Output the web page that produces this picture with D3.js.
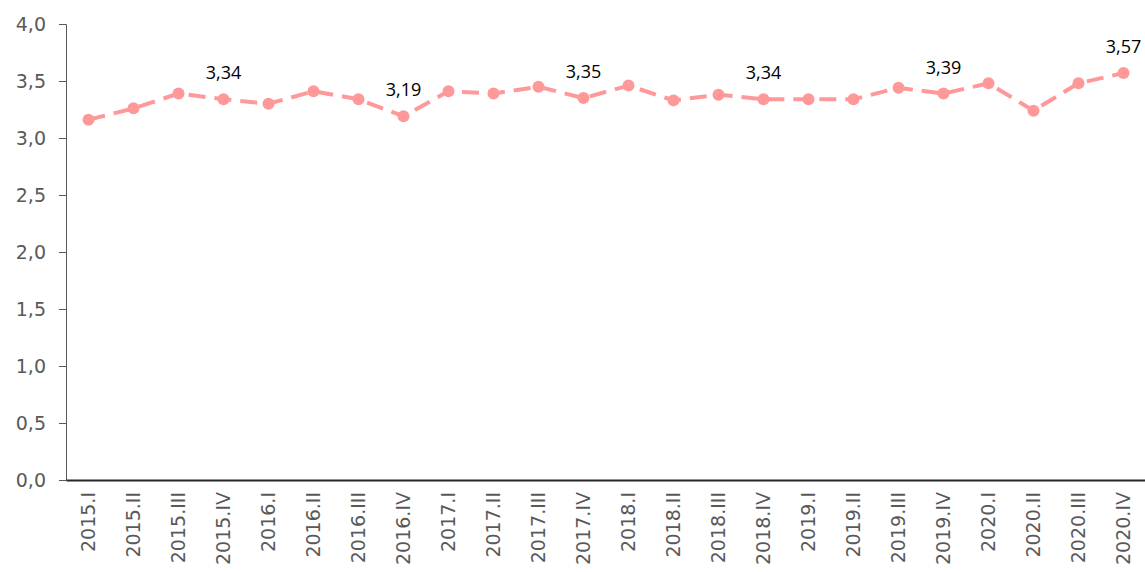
<!DOCTYPE html>
<html>
<head>
<meta charset="utf-8">
<script src="https://cdn.jsdelivr.net/npm/d3@7"></script>
<style>
  body { margin: 0; background: #fff; }
  svg { display: block; }
</style>
</head>
<body>
<svg></svg>
<script>
// quarterly series
const quarters = ['2015.I','2015.II','2015.III','2015.IV','2016.I','2016.II','2016.III','2016.IV',
  '2017.I','2017.II','2017.III','2017.IV','2018.I','2018.II','2018.III','2018.IV',
  '2019.I','2019.II','2019.III','2019.IV','2020.I','2020.II','2020.III','2020.IV']
const values = [3.16,3.26,3.39,3.34,3.30,3.41,3.34,3.19,
  3.41,3.39,3.45,3.35,3.46,3.33,3.38,3.34,
  3.34,3.34,3.44,3.39,3.48,3.24,3.48,3.57]
const yticks = [0,0.5,1,1.5,2,2.5,3,3.5,4]

const width = 1145
const height = 572
const margin = { left: 66, top: 24, right: -1, bottom: 92 }

let svg = d3.select('svg')
            .attr('width', width)
            .attr('height', height)

const fmt = v => d3.format('.1f')(v).replace('.', ',')
const fmt2 = v => d3.format('.2f')(v).replace('.', ',')

const xscale = d3.scaleBand()
                 .domain(quarters)
                 .range([margin.left, width - margin.right])
const yscale = d3.scaleLinear()
                 .domain([0, 4])
                 .range([height - margin.bottom, margin.top])

// y axis
const yaxis = svg.append('g')
   .attr('transform', `translate(${margin.left},0)`)
   .call(d3.axisLeft(yscale).tickValues(yticks).tickFormat(fmt).tickSize(7).tickPadding(13))
yaxis.select('.domain').attr('stroke', '#595959')
yaxis.selectAll('.tick line').attr('stroke', '#595959')
yaxis.selectAll('text')
     .attr('fill', '#595959')
     .style('font-family', 'DejaVu Sans')
     .style('font-size', '19px')

// x axis
const xaxis = svg.append('g')
   .attr('transform', `translate(0,${yscale(0)})`)
   .call(d3.axisBottom(xscale).tickSize(0))
xaxis.select('.domain').attr('stroke', '#262626').attr('stroke-width', 2)
xaxis.selectAll('text')
     .attr('fill', '#595959')
     .style('font-family', 'DejaVu Sans')
     .style('font-size', '19px')
     .attr('text-anchor', 'end')
     .attr('transform', 'rotate(-90)')
     .attr('x', -12)
     .attr('y', 0)
     .attr('dy', '0.35em')

const cx = d => xscale(d) + xscale.bandwidth() / 2

const line = d3.line()
   .x((d, i) => cx(quarters[i]))
   .y(d => yscale(d))

svg.append('path')
   .datum(values)
   .attr('d', line)
   .attr('fill', 'none')
   .attr('stroke', '#ff9999')
   .attr('stroke-width', 4)
   .attr('stroke-dasharray', '17,9')

svg.selectAll('circle.pt')
   .data(values)
   .join('circle')
   .attr('class', 'pt')
   .attr('cx', (d, i) => cx(quarters[i]))
   .attr('cy', d => yscale(d))
   .attr('r', 6)
   .attr('fill', '#ff9999')

// labels for every fourth quarter
svg.selectAll('text.lbl')
   .data(values.map((v, i) => ({ v, q: quarters[i], i })).filter(d => d.i % 4 === 3))
   .join('text')
   .attr('class', 'lbl')
   .attr('x', d => cx(d.q))
   .attr('y', d => yscale(d.v) - 20)
   .attr('text-anchor', 'middle')
   .style('font-family', 'Open Sans')
   .style('font-size', '18px')
   .attr('fill', '#000')
   .text(d => fmt2(d.v))
</script>
</body>
</html>
